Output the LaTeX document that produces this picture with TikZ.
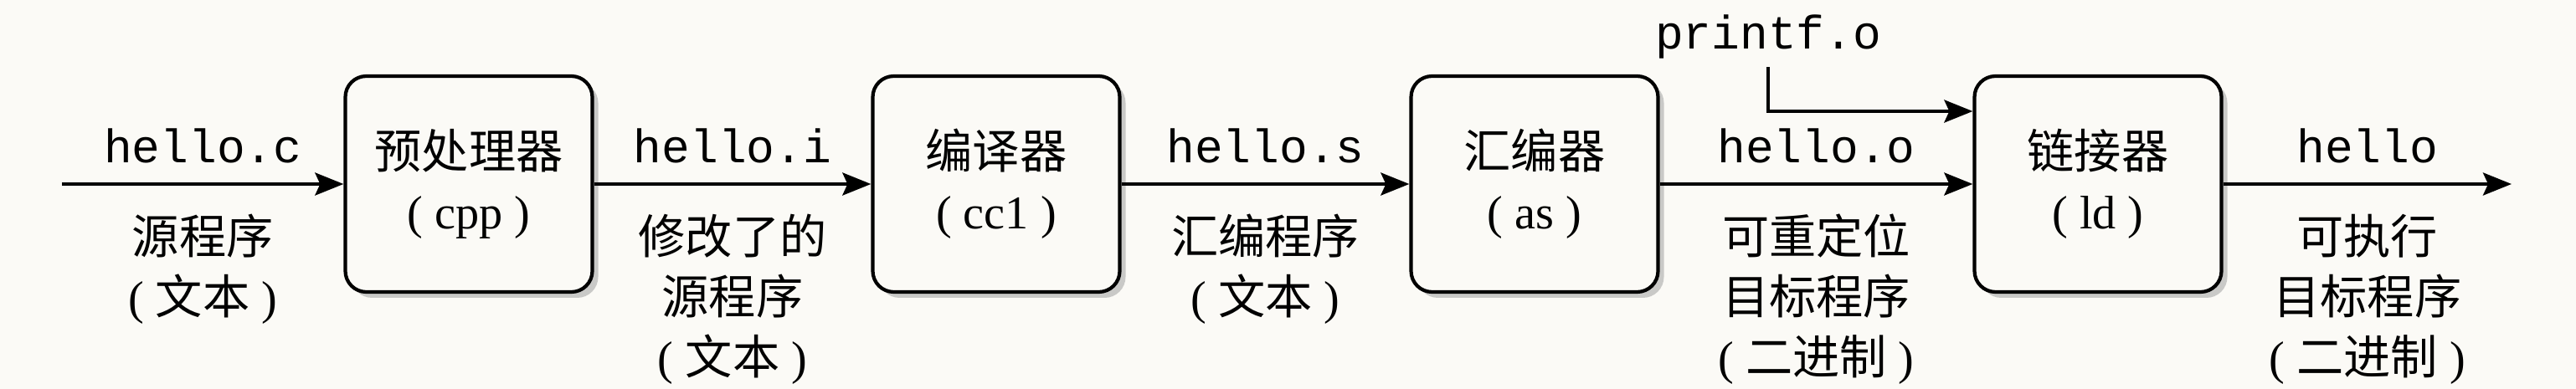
\documentclass[tikz,border=0pt]{standalone}
\usepackage{fontspec}
\setmainfont{Liberation Serif}
\setmonofont{Liberation Mono}
\newfontfamily\cjk{Noto Sans CJK SC}
\newcommand{\zh}[1]{{\cjk #1}}
\usetikzlibrary{arrows.meta,positioning,shadows}
\definecolor{paper}{RGB}{251,250,246}

\begin{document}
\begin{tikzpicture}[
    font=\fontsize{16}{20.5}\selectfont,
    flow/.style={line width=1.2pt, -{Stealth[length=0.34cm,width=0.27cm,inset=0.06cm]}},
    stage/.style={draw, line width=1.2pt, rounded corners=0.25cm, fill=paper,
      minimum width=2.95cm, minimum height=2.58cm, align=center, inner sep=0,
      drop shadow={shadow xshift=0.07cm, shadow yshift=-0.07cm, fill=black!40}},
    filelabel/.style={above=0.23cm, inner sep=0, font=\fontsize{16}{20.5}\selectfont\ttfamily},
    desclabel/.style={below=0.34cm, inner sep=0, align=center}
  ]
  % paper
  \fill[paper] (0,-2.45) rectangle (30.77,2.20);
  \useasboundingbox (0,-2.45) rectangle (30.77,2.20);
  % stages (x/name/tool/command)
  \foreach \x/\name/\tool/\cmd in {
    5.60/cpp/预处理器/cpp,
    11.90/cc1/编译器/cc1,
    18.33/as/汇编器/as,
    25.06/ld/链接器/ld}
  {
    \node[stage] (\name) at (\x,0) {\zh{\tool}\\( \cmd\ )};
  }
  % free ends
  \coordinate (src) at (0.74,0);
  \coordinate (exe) at (30.00,0);
  % files between the stages (from/to/file/description)
  \foreach \a/\b/\file/\desc in {
    src/cpp/hello.c/{\zh{源程序}\\( \zh{文本} )},
    cpp/cc1/hello.i/{\zh{修改了的}\\\zh{源程序}\\( \zh{文本} )},
    cc1/as/hello.s/{\zh{汇编程序}\\( \zh{文本} )},
    as/ld/hello.o/{\zh{可重定位}\\\zh{目标程序}\\( \zh{二进制} )},
    ld/exe/hello/{\zh{可执行}\\\zh{目标程序}\\( \zh{二进制} )}}
  {
    \draw[flow] (\a) -- node[filelabel] {\file} node[desclabel] {\desc} (\b);
  }
  % library object
  \node[anchor=base, inner sep=0.09cm, font=\fontsize{16}{20.5}\selectfont\ttfamily] (printf) at (21.12,1.61) {printf.o};
  \draw[flow] (printf.south) |- ([yshift=0.87cm]ld.west);
\end{tikzpicture}
\end{document}
